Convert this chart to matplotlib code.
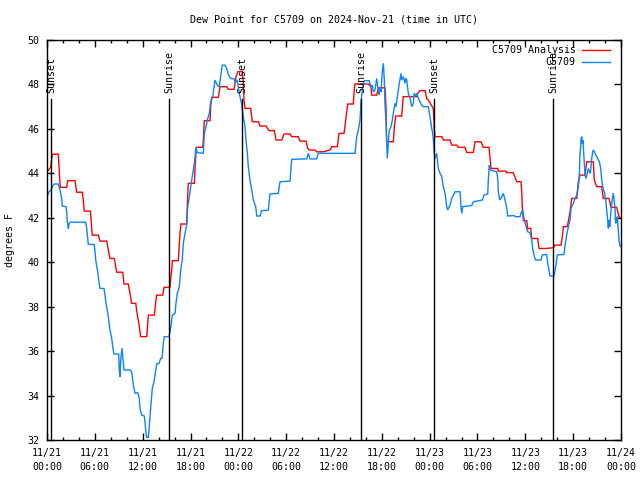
import matplotlib
matplotlib.use("Agg")
import matplotlib.pyplot as plt
import matplotlib.transforms as mtransforms
from matplotlib.ticker import MultipleLocator, FixedLocator

# ---------------- data (hours since 2024-11-21 00:00 UTC) ----------------
analysis_hours = [0.0, 0.46, 0.66, 1.42, 1.59, 1.67, 2.47, 2.60, 3.51, 3.73, 4.43, 4.55, 4.68, 5.43,
                  5.52, 5.61, 5.68, 6.44, 6.65, 7.49, 7.69, 7.90, 8.44, 8.62, 8.74, 9.50, 9.66, 10.20,
                  10.41, 10.62, 11.13, 11.33, 11.54, 11.75, 12.51, 12.71, 13.46, 13.67, 13.76, 14.51,
                  14.68, 15.43, 15.52, 15.64, 15.72, 16.47, 16.68, 16.81, 17.52, 17.60, 17.72, 18.48,
                  18.60, 18.73, 19.53, 19.61, 19.73, 20.45, 20.53, 20.66, 21.49, 21.70, 22.54, 22.74,
                  23.46, 23.71, 23.96, 24.50, 24.59, 24.71, 24.84, 25.55, 25.75, 26.51, 26.72, 27.47,
                  27.85, 28.51, 28.73, 29.44, 29.73, 30.48, 30.70, 31.52, 31.74, 32.49, 32.70, 32.90,
                  33.62, 33.83, 34.66, 35.50, 35.71, 36.42, 36.63, 37.26, 37.47, 37.59, 37.72, 38.42,
                  38.55, 38.64, 40.30, 40.64, 40.73, 41.36, 41.56, 41.65, 42.40, 42.52, 42.61, 43.44,
                  43.57, 43.74, 44.49, 44.69, 46.38, 46.50, 46.79, 47.42, 47.63, 47.83, 48.46, 48.58,
                  48.67, 49.51, 49.71, 50.55, 50.77, 51.39, 51.59, 52.43, 52.65, 53.48, 53.69, 54.44,
                  54.73, 55.44, 55.57, 55.70, 56.54, 56.61, 57.54, 57.67, 58.49, 58.71, 58.92, 59.46,
                  59.55, 59.62, 59.75, 60.17, 60.30, 60.68, 60.80, 61.55, 61.72, 62.56, 63.51, 63.72,
                  64.48, 64.64, 64.77, 65.27, 65.61, 65.82, 66.45, 66.65, 66.86, 67.49, 67.70, 68.53,
                  68.65, 68.96, 69.58, 69.78, 70.50, 70.75, 71.46, 71.59, 71.79, 72.0]
analysis_dewpt = [44.07, 44.27, 44.86, 44.86, 43.78, 43.37, 43.37, 43.67, 43.67, 43.15, 43.15, 42.8,
                  42.3, 42.3, 42.0, 41.48, 41.22, 41.22, 40.95, 40.95, 40.55, 40.17, 40.17, 39.8, 39.55,
                  39.55, 39.02, 39.02, 38.6, 38.15, 38.15, 37.62, 37.2, 36.65, 36.65, 37.62, 37.62, 38.3,
                  38.52, 38.52, 38.87, 38.87, 39.27, 39.65, 40.07, 40.07, 41.3, 41.72, 41.72, 42.57,
                  43.55, 43.55, 44.45, 45.17, 45.17, 45.5, 46.37, 46.37, 47.0, 47.42, 47.42, 47.9, 47.9,
                  47.78, 47.78, 48.35, 48.58, 48.58, 48.2, 47.3, 46.92, 46.92, 46.32, 46.32, 46.13,
                  46.13, 45.92, 45.92, 45.5, 45.5, 45.77, 45.77, 45.65, 45.65, 45.45, 45.45, 45.12,
                  45.05, 45.05, 44.97, 44.97, 45.05, 45.2, 45.2, 45.8, 45.8, 46.4, 46.77, 47.12, 47.12,
                  47.78, 48.02, 48.02, 47.9, 47.52, 47.52, 47.82, 47.85, 47.85, 47.0, 45.42, 45.42,
                  46.1, 46.58, 46.58, 47.45, 47.45, 47.6, 47.72, 47.72, 47.37, 47.3, 46.92, 45.98,
                  45.65, 45.65, 45.5, 45.5, 45.27, 45.27, 45.17, 45.17, 44.94, 44.94, 45.42, 45.42,
                  45.17, 45.17, 44.67, 44.22, 44.22, 44.1, 44.1, 44.03, 44.03, 43.82, 43.62, 43.62,
                  43.17, 42.5, 41.87, 41.87, 41.52, 41.52, 41.07, 41.07, 40.62, 40.62, 40.65, 40.77,
                  40.77, 41.15, 41.6, 41.6, 42.27, 42.87, 42.87, 43.62, 43.92, 43.92, 44.52, 44.52,
                  43.7, 43.4, 43.4, 42.87, 42.87, 42.47, 42.47, 42.27, 42.02, 42.0]

station_hours = [0.0, 0.09, 0.25, 0.50, 0.66, 0.88, 1.42, 1.63, 1.84, 1.92, 2.38, 2.47, 2.55, 2.67,
                 2.76, 2.89, 4.85, 4.98, 5.11, 5.18, 5.90, 6.02, 6.11, 6.23, 6.36, 6.52, 6.65, 7.15,
                 7.28, 7.40, 7.56, 7.69, 7.81, 7.94, 8.12, 8.24, 8.40, 8.99, 9.07, 9.16, 9.24, 9.41,
                 9.50, 9.66, 10.41, 10.62, 10.83, 11.04, 11.38, 11.58, 11.67, 11.88, 12.21, 12.29,
                 12.42, 12.51, 12.71, 12.79, 12.92, 13.05, 13.21, 13.42, 13.64, 13.76, 14.05, 14.26,
                 14.43, 14.59, 14.71, 15.30, 15.43, 15.55, 15.72, 16.06, 16.18, 16.34, 16.60, 16.77,
                 16.97, 17.10, 17.31, 17.52, 17.65, 17.85, 18.03, 18.15, 18.35, 18.48, 18.69, 18.85,
                 19.61, 19.73, 19.95, 20.11, 20.36, 20.53, 20.79, 20.95, 21.07, 21.36, 21.61, 21.83,
                 21.99, 22.33, 22.54, 22.74, 23.04, 23.46, 23.67, 23.87, 24.12, 24.30, 24.42, 24.62,
                 24.84, 24.96, 25.13, 25.25, 25.46, 25.68, 25.88, 26.18, 26.31, 26.72, 26.93, 27.76,
                 27.97, 29.01, 29.23, 30.48, 30.70, 32.58, 32.78, 32.99, 33.83, 34.03, 38.64, 38.85,
                 39.05, 39.26, 39.39, 39.55, 39.80, 40.39, 40.64, 40.81, 40.93, 41.14, 41.36, 41.48,
                 41.65, 41.77, 41.90, 42.06, 42.19, 42.31, 42.40, 42.52, 42.61, 42.69, 42.81, 42.94,
                 43.15, 43.32, 43.44, 43.65, 43.78, 43.86, 44.07, 44.19, 44.41, 44.49, 44.69, 44.91,
                 44.99, 45.12, 45.32, 45.54, 45.75, 45.95, 46.07, 46.16, 46.38, 46.58, 46.79, 47.00,
                 47.20, 47.83, 48.04, 48.26, 48.38, 48.46, 48.58, 48.67, 48.88, 49.08, 49.30, 49.51,
                 49.71, 49.93, 50.14, 50.26, 50.55, 50.77, 51.18, 51.81, 51.93, 52.02, 52.15, 53.27,
                 53.48, 54.61, 54.82, 55.28, 55.36, 55.48, 55.61, 56.41, 56.54, 56.61, 56.79, 57.04,
                 57.24, 57.45, 57.67, 57.79, 58.62, 58.71, 59.33, 59.46, 59.67, 59.87, 60.09, 60.30,
                 60.59, 60.80, 60.92, 61.13, 61.30, 61.97, 62.13, 62.68, 62.81, 62.97, 63.10, 63.60,
                 63.81, 64.01, 64.85, 64.98, 65.19, 65.39, 65.61, 65.73, 66.02, 66.23, 66.45, 66.65,
                 66.77, 66.86, 66.95, 66.99, 67.07, 67.15, 67.24, 67.32, 67.40, 67.49, 67.61, 67.78,
                 67.90, 68.03, 68.15, 68.24, 68.33, 68.45, 68.53, 68.74, 68.96, 69.16, 69.28, 69.46,
                 69.58, 69.78, 69.91, 70.08, 70.21, 70.33, 70.41, 70.50, 70.59, 70.66, 70.75, 70.84,
                 70.91, 71.04, 71.16, 71.25, 71.34, 71.46, 71.54, 71.66, 71.75, 71.84, 72.0]
station_dewpt = [42.95, 43.02, 43.17, 43.25, 43.37, 43.52, 43.52, 43.25, 42.87, 42.53, 42.5, 42.27,
                 41.82, 41.52, 41.72, 41.8, 41.8, 41.52, 41.07, 40.8, 40.8, 40.52, 40.1, 39.83, 39.57,
                 39.12, 38.82, 38.82, 38.52, 38.15, 37.85, 37.55, 37.17, 36.87, 36.57, 36.2, 35.87,
                 35.87, 35.15, 34.85, 35.6, 36.13, 35.75, 35.15, 35.15, 35.07, 34.47, 34.1, 34.13,
                 33.87, 33.42, 33.12, 33.08, 32.82, 32.3, 32.12, 32.12, 32.45, 33.05, 33.65, 34.32,
                 34.62, 35.15, 35.42, 35.45, 35.67, 35.67, 36.38, 36.65, 36.65, 36.87, 37.13, 37.62,
                 37.7, 38.15, 38.6, 38.9, 39.65, 40.1, 40.85, 41.3, 41.67, 42.5, 42.95, 43.4, 43.7,
                 44.15, 44.45, 45.17, 44.93, 44.9, 45.8, 46.1, 46.4, 46.7, 47.22, 47.45, 47.9, 48.2,
                 47.97, 47.9, 48.5, 48.87, 48.87, 48.72, 48.45, 48.27, 48.25, 48.08, 48.2, 47.6, 47.3,
                 47.12, 46.55, 46.1, 45.5, 44.9, 44.3, 43.7, 43.25, 42.8, 42.5, 42.08, 42.08, 42.32,
                 42.35, 43.07, 43.1, 43.62, 43.65, 44.63, 44.65, 44.9, 44.65, 44.65, 44.9, 44.9,
                 45.65, 45.95, 46.4, 47.22, 47.75, 48.17, 48.17, 47.9, 47.97, 47.67, 47.75, 48.27,
                 47.9, 47.52, 47.82, 47.67, 48.57, 48.95, 48.2, 47.07, 46.4, 45.35, 44.67, 45.35,
                 45.95, 46.1, 46.4, 46.7, 47.15, 47.0, 47.22, 47.75, 48.05, 48.5, 48.2, 48.35, 48.05,
                 48.27, 48.2, 47.6, 47.37, 47.0, 47.15, 47.6, 47.45, 47.6, 47.37, 47.22, 47.07, 47.0,
                 47.0, 46.55, 46.02, 45.8, 45.5, 44.9, 44.67, 44.9, 44.22, 44.0, 43.85, 43.4, 43.1,
                 42.5, 42.35, 42.57, 42.87, 43.17, 43.17, 42.5, 42.2, 42.5, 42.55, 42.72, 42.8, 43.02,
                 43.07, 43.7, 44.37, 44.15, 44.07, 43.77, 43.17, 42.8, 42.95, 43.1, 42.8, 42.42, 42.08,
                 42.1, 42.05, 42.05, 42.2, 42.35, 41.9, 41.6, 41.37, 41.33, 41.0, 40.62, 40.25, 40.1,
                 40.1, 40.33, 40.35, 39.95, 39.65, 39.38, 39.38, 39.8, 40.33, 40.35, 40.77, 41.22,
                 41.6, 41.9, 42.42, 42.65, 42.87, 43.02, 43.4, 43.92, 44.9, 45.2, 45.57, 45.65, 45.35,
                 45.5, 44.9, 44.45, 43.92, 43.77, 44.0, 44.22, 44.07, 44.0, 44.3, 44.67, 44.97, 45.05,
                 44.9, 44.75, 44.6, 44.52, 44.22, 43.7, 43.25, 43.17, 42.8, 42.35, 41.9, 41.52, 41.9,
                 41.6, 41.9, 42.35, 42.65, 42.87, 43.1, 42.72, 42.42, 41.75, 41.9, 42.05, 41.45, 41.0,
                 40.77, 40.7]

sun_hours = [0.55, 15.33, 24.45, 39.39, 48.58, 63.5]
sun_labels = ["Sunset", "Sunrise", "Sunset", "Sunrise", "Sunset", "Sunrise"]

xtick_hours = [0, 6, 12, 18, 24, 30, 36, 42, 48, 54, 60, 66, 72]
xtick_labels = ["11/21\n00:00", "11/21\n06:00", "11/21\n12:00", "11/21\n18:00",
                "11/22\n00:00", "11/22\n06:00", "11/22\n12:00", "11/22\n18:00",
                "11/23\n00:00", "11/23\n06:00", "11/23\n12:00", "11/23\n18:00",
                "11/24\n00:00"]

series_names = ["C5709 Analysis", "C5709"]
title = "Dew Point for C5709 on 2024-Nov-21 (time in UTC)"
ylabel = "degrees F"

# ---------------- style ----------------
FONT = "DejaVu Sans Mono"
FS = 7.2
RED = "#ff0000"
BLUE = "#0a84ff"
plt.rcParams["font.family"] = [FONT]
plt.rcParams["font.size"] = FS

fig = plt.figure(figsize=(6.4, 4.8), dpi=100)
ax = fig.add_axes([47 / 640, 40 / 480, 574 / 640, 400 / 480])

ax.plot(analysis_hours, analysis_dewpt, color=RED, lw=1.0, solid_joinstyle="miter")
ax.plot(station_hours, station_dewpt, color=BLUE, lw=1.0, solid_joinstyle="miter")

ax.set_xlim(0, 72)
ax.set_ylim(32, 50)

# sunrise / sunset markers
line_top = 0.8525
for h, lab in zip(sun_hours, sun_labels):
    ax.plot([h, h], [0, line_top], color="black", lw=1.0,
            transform=mtransforms.blended_transform_factory(ax.transData, ax.transAxes))
    ax.text(h, 0.868, lab, rotation=90, ha="center", va="bottom", fontsize=FS,
            transform=mtransforms.blended_transform_factory(ax.transData, ax.transAxes))

# ticks
ax.xaxis.set_major_locator(FixedLocator(xtick_hours))
ax.set_xticklabels(xtick_labels)
ax.xaxis.set_minor_locator(MultipleLocator(2))
ax.yaxis.set_major_locator(MultipleLocator(2))
ax.tick_params(axis="both", which="major", direction="in", length=5, width=1.0,
               top=True, right=True, labelsize=FS)
ax.tick_params(axis="both", which="minor", direction="in", length=2.5, width=1.0,
               top=True, right=True)
ax.tick_params(axis="y", pad=5.5)
ax.tick_params(axis="x", pad=6)
for lbl in ax.get_xticklabels():
    lbl.set_linespacing(1.45)
for sp in ax.spines.values():
    sp.set_linewidth(1.0)

# legend drawn in gnuplot style (text left of sample line)
leg_rows = [0.975, 0.944]
for (name, col, yy) in zip(series_names, [RED, BLUE], leg_rows):
    ax.text(0.921, yy, name, ha="right", va="center", transform=ax.transAxes, fontsize=FS)
    ax.plot([0.932, 0.981], [yy, yy], color=col, lw=1.0, transform=ax.transAxes)

fig.text(334 / 640, 1 - 20 / 480, title, ha="center", va="center", fontsize=FS)
fig.text(10 / 640, 1 - 240 / 480, ylabel, ha="center", va="center", rotation=90, fontsize=FS)

fig.savefig("out.png", dpi=100)
